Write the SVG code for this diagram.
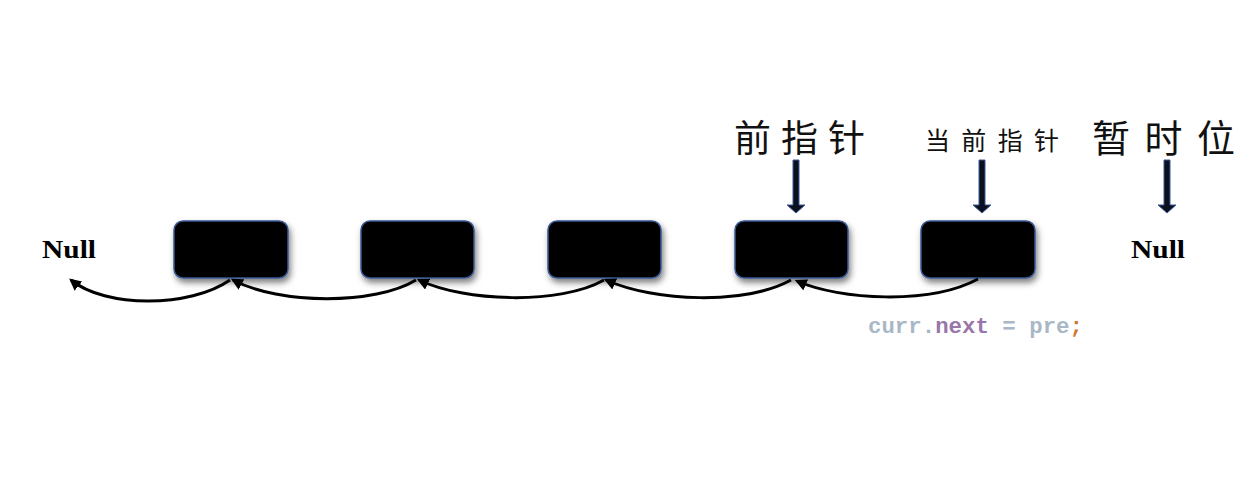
<svg xmlns="http://www.w3.org/2000/svg" width="1252" height="477" viewBox="0 0 1252 477">
<style>
.node{fill:#000;stroke:#3a5a95;stroke-width:1.5}
.cn{font-family:"Noto Sans CJK SC","Noto Sans",sans-serif;fill:#111}
.null{font-family:"Liberation Serif",serif;font-weight:bold;font-size:25px;fill:#000}
.link{fill:none;stroke:#000;stroke-width:3}
.ptr{fill:#0b0f1e;stroke:#3a5a95;stroke-width:1}
.code{font-family:"Liberation Mono",monospace;font-weight:bold;font-size:22.4px}
</style>
<defs>
<filter id="sh" x="-20%" y="-20%" width="150%" height="160%">
<feDropShadow dx="2" dy="4" stdDeviation="3" flood-color="#000" flood-opacity="0.5"/>
</filter>
<marker id="ah" viewBox="0 0 10 10" refX="8" refY="5" markerWidth="4" markerHeight="4" orient="auto-start-reverse">
<path d="M0,0 L10,5 L0,10 z" fill="#000"/>
</marker>
</defs>
<rect width="1252" height="477" fill="#fff"/>
<g id="null-left"><text class="null" x="42" y="258" textLength="54" lengthAdjust="spacingAndGlyphs">Null</text></g>
<g id="null-right"><text class="null" x="1131" y="258" textLength="54" lengthAdjust="spacingAndGlyphs">Null</text></g>
<g id="node1"><rect class="node" x="174" y="221" width="114" height="57" rx="9" filter="url(#sh)"/></g>
<g id="node2"><rect class="node" x="361" y="221" width="113" height="57" rx="9" filter="url(#sh)"/></g>
<g id="node3"><rect class="node" x="548" y="221" width="113" height="57" rx="9" filter="url(#sh)"/></g>
<g id="node4"><rect class="node" x="735" y="221" width="113" height="57" rx="9" filter="url(#sh)"/></g>
<g id="node5"><rect class="node" x="921" y="221" width="114" height="57" rx="9" filter="url(#sh)"/></g>
<g id="label-pre"><text class="cn" x="734" y="152" font-size="37" textLength="131" lengthAdjust="spacing">前指针</text></g>
<g id="label-curr"><text class="cn" x="925" y="150" font-size="25" textLength="134" lengthAdjust="spacing">当前指针</text></g>
<g id="label-temp"><text class="cn" x="1092" y="152" font-size="38" textLength="143" lengthAdjust="spacing">暂时位</text></g>
<g id="code"><text class="code" x="868" y="333"><tspan fill="#a9b7c6">curr.</tspan><tspan fill="#9876aa">next</tspan><tspan fill="#a9b7c6"> = pre</tspan><tspan fill="#cc7832">;</tspan></text></g>
<g id="connectors">
<path class="link" d="M978,279 C930,305 840,300 797,281" marker-end="url(#ah)"/>
<path class="link" d="M791,280 C745,305 655,302 606,280" marker-end="url(#ah)"/>
<path class="link" d="M604,280 C560,305 465,302 419,280" marker-end="url(#ah)"/>
<path class="link" d="M416,280 C375,305 280,305 233,280" marker-end="url(#ah)"/>
<path class="link" d="M230,280 C190,308 105,308 71,280" marker-end="url(#ah)"/>
<path class="ptr" d="M793,160 h6 v45 h6 l-9,8 l-9,-8 h6 z"/>
<path class="ptr" d="M979,160 h6 v45 h6 l-9,8 l-9,-8 h6 z"/>
<path class="ptr" d="M1164,160 h6 v45 h6 l-9,8 l-9,-8 h6 z"/>
</g>
</svg>
